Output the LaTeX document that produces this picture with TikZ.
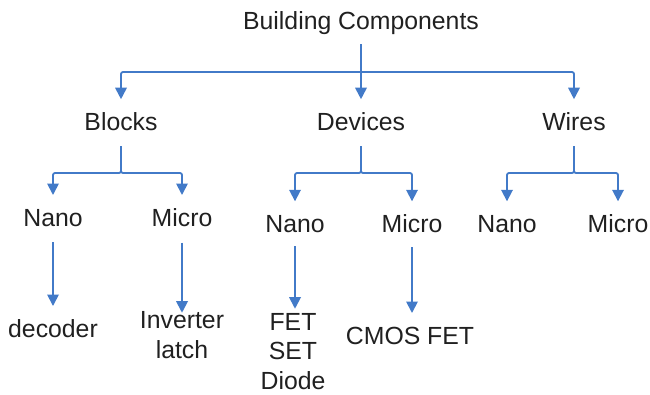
\documentclass[tikz,border=0pt]{standalone}
\usepackage{fontspec}
\setmainfont{Liberation Sans}
\usetikzlibrary{arrows.meta}
\definecolor{lnblue}{RGB}{66,122,200}
\definecolor{txt}{RGB}{32,32,32}
\begin{document}
\begin{tikzpicture}[x=1pt,y=-1pt,
  lbl/.style={font=\fontsize{24.8}{29.5}\selectfont, text=txt, inner sep=0pt, anchor=base, text height=17.8pt, text depth=5pt},
  multi/.style={font=\fontsize{24.8}{29.5}\selectfont, text=txt, inner sep=0pt, anchor=base, align=center},
  wire/.style={draw=lnblue, line width=1.8pt, rounded corners=2pt},
  conn/.style={wire, -{Triangle[width=11.5pt,length=11.5pt]}}
]
\useasboundingbox (0,0) rectangle (650,394);

% level 0
\node[lbl] (root) at (361,29.5) {Building Components};
% level 1
\node[lbl] (blocks) at (121,130) {Blocks};
\node[lbl] (devices) at (361,130) {Devices};
\node[lbl] (wires) at (574,130) {Wires};
% level 2
\node[lbl] (bnano) at (53,226.5) {Nano};
\node[lbl] (bmicro) at (182,226.5) {Micro};
\node[lbl] (dnano) at (295,232) {Nano};
\node[lbl] (dmicro) at (412,232) {Micro};
\node[lbl] (wnano) at (507,232) {Nano};
\node[lbl] (wmicro) at (618,232) {Micro};
% level 3 (multi-line nodes: base is the last line)
\node[lbl] (dec) at (53,337.5) {decoder};
\node[multi] (inv) at (182,358) {Inverter\\latch};
\node[multi] (fet) at (293,389) {FET\\SET\\Diode};
\node[lbl] (cmos) at (410,344.5) {CMOS FET};

% junctions
\coordinate (j1) at (361,72);
\coordinate (j2) at (121,173);
\coordinate (j3) at (361,173);
\coordinate (j4) at (574,173);

% level 0 -> 1
\draw[conn, shorten <=9.5pt, shorten >=12.8pt] (root.south) -- (devices.north);
\draw[conn, shorten >=12.8pt] (j1) -| (blocks.north);
\draw[conn, shorten >=12.8pt] (j1) -| (wires.north);

% level 1 -> 2
\draw[conn, shorten <=11pt, shorten >=13.5pt] (blocks.south) -- (j2) -| (bnano.north);
\draw[conn, shorten <=11pt, shorten >=13.5pt] (blocks.south) -- (j2) -| (bmicro.north);
\draw[conn, shorten <=11pt, shorten >=12.7pt] (devices.south) -- (j3) -| (dnano.north);
\draw[conn, shorten <=11pt, shorten >=12.7pt] (devices.south) -- (j3) -| (dmicro.north);
\draw[conn, shorten <=11pt, shorten >=12.7pt] (wires.south) -- (j4) -| (wnano.north);
\draw[conn, shorten <=11pt, shorten >=12.7pt] (wires.south) -- (j4) -| (wmicro.north);

% level 2 -> 3
\draw[conn, shorten <=10.7pt, shorten >=13.5pt] (bnano.south) -- (bnano.south |- dec.north);
\draw[conn, shorten <=11pt, shorten >=-1.5pt] (bmicro.south) -- (bmicro.south |- inv.north);
\draw[conn, shorten <=9pt, shorten >=4pt] (dnano.south) -- (dnano.south |- fet.north);
\draw[conn, shorten <=10pt, shorten >=13.5pt] (dmicro.south) -- (dmicro.south |- cmos.north);
\end{tikzpicture}
\end{document}
